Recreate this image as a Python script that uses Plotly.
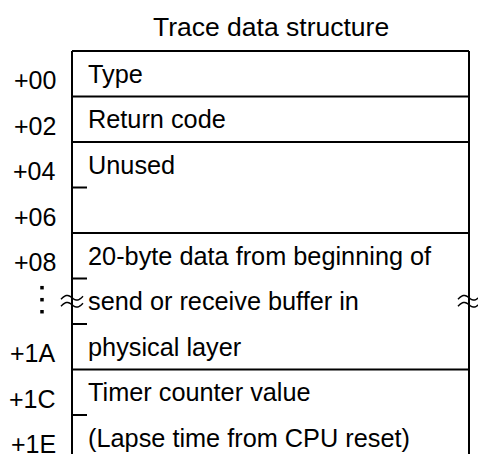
import numpy as np
import plotly.graph_objects as go

# ---- content -------------------------------------------------------------
TITLE = "Trace data structure"
OFFSET_LABELS = ["+00", "+02", "+04", "+06", "+08", "", "+1A", "+1C", "+1E"]
FIELD_START_ROWS = [0, 1, 2, 4, 7]
FIELD_ROW_COUNTS = [1, 1, 2, 3, 2]
FIELD_TEXT_LINES = [
    ["Type"],
    ["Return code"],
    ["Unused"],
    ["20-byte data from beginning of", "send or receive buffer in", "physical layer"],
    ["Timer counter value", "(Lapse time from CPU reset)"],
]
BREAK_ROW = 5  # row elided (marked with vertical ellipsis and break symbols)
ELLIPSIS_DOT_OFFSETS = [-0.264, 0.0, 0.264]  # vertical dots, in rows

# ---- style ---------------------------------------------------------------
FONT = "Liberation Sans, Arial, sans-serif"
W, H = 478, 454
ROW_PX = 45.5
TOP_PX = 51
BOX_LEFT, BOX_RIGHT = 72, 469
TICK_LEN = 15
LABEL_RIGHT = 58
TEXT_LEFT = 86
LW = 2

y_top = -TOP_PX / ROW_PX
y_bottom = (H - TOP_PX) / ROW_PX

fig = go.Figure()
shapes = []
annotations = []

line = dict(color="black", width=LW)
# box outline
shapes.append(dict(type="line", x0=BOX_LEFT, x1=BOX_RIGHT, y0=0, y1=0, line=line))
shapes.append(dict(type="line", x0=BOX_LEFT, x1=BOX_LEFT, y0=0, y1=y_bottom + 1, line=line))
shapes.append(dict(type="line", x0=BOX_RIGHT, x1=BOX_RIGHT, y0=0, y1=y_bottom + 1, line=line))

for start, count, lines in zip(FIELD_START_ROWS, FIELD_ROW_COUNTS, FIELD_TEXT_LINES):
    end = start + count
    # full separator at field end
    shapes.append(dict(type="line", x0=BOX_LEFT, x1=BOX_RIGHT, y0=end, y1=end, line=line))
    # short ticks for word boundaries inside field
    for r in range(start + 1, end):
        shapes.append(dict(type="line", x0=BOX_LEFT, x1=BOX_LEFT + TICK_LEN, y0=r, y1=r, line=line))
    for j, txt in enumerate(lines):
        annotations.append(dict(x=TEXT_LEFT, y=start + j + 0.5, text=txt, showarrow=False,
                                xanchor="left", yanchor="middle",
                                font=dict(family=FONT, size=25.3, color="black")))

for i, lab in enumerate(OFFSET_LABELS):
    if i == BREAK_ROW:
        continue
    annotations.append(dict(x=LABEL_RIGHT, y=i + 0.5 + 0.14, text=lab, showarrow=False,
                            xanchor="right", yanchor="middle",
                            font=dict(family=FONT, size=25, color="black")))

# vertical ellipsis for the elided row
fig.add_trace(go.Scatter(
    x=[42] * len(ELLIPSIS_DOT_OFFSETS),
    y=[BREAK_ROW + 0.466 + d for d in ELLIPSIS_DOT_OFFSETS],
    mode="markers", marker=dict(symbol="square", size=3.5, color="black"),
    hoverinfo="skip", showlegend=False,
))

# break symbols (double wavy lines) across both borders
t = np.linspace(0, 1, 30)
amp = 3.0 / ROW_PX
tilt = 3.0 / ROW_PX
for xc in (BOX_LEFT, BOX_RIGHT):
    for dy in (-3.5 / ROW_PX, 3.5 / ROW_PX):
        xs = xc - 11 + 22 * t
        ys = BREAK_ROW + 0.5 + dy - amp * np.sin(2 * np.pi * t) - tilt * (t - 0.5)
        path = "M " + " L ".join(f"{x:.2f},{y:.4f}" for x, y in zip(xs, ys))
        shapes.append(dict(type="path", path=path, line=dict(color="black", width=1.5)))

annotations.append(dict(x=(BOX_LEFT + BOX_RIGHT) / 2, y=-0.52, text=TITLE, showarrow=False,
                        xanchor="center", yanchor="middle",
                        font=dict(family=FONT, size=26.5, color="black")))

fig.update_layout(
    width=W, height=H,
    margin=dict(l=0, r=0, t=0, b=0),
    paper_bgcolor="white", plot_bgcolor="white",
    xaxis=dict(range=[0, W], visible=False, fixedrange=True),
    yaxis=dict(range=[y_bottom, y_top], visible=False, fixedrange=True),
    shapes=shapes, annotations=annotations, showlegend=False,
)

fig.write_html("out.html", config={"displayModeBar": False},
               post_script="document.body.style.margin='0';document.body.style.overflow='hidden';")
